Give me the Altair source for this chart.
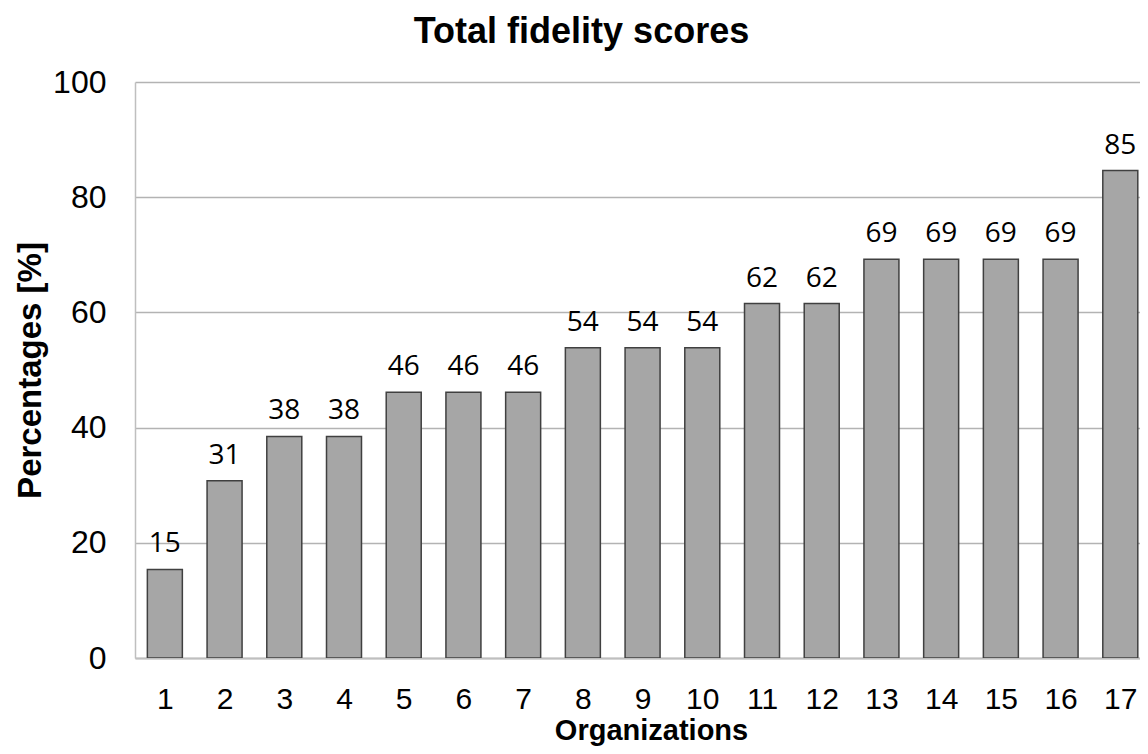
import altair as alt
import pandas as pd

organizations = list(range(1, 18))
scores = [15.38, 30.77, 38.46, 38.46, 46.15, 46.15, 46.15, 53.85, 53.85, 53.85,
          61.54, 61.54, 69.23, 69.23, 69.23, 69.23, 84.62]
x_ticks = list(range(1, 18))
y_ticks = [0, 20, 40, 60, 80, 100]

df = pd.DataFrame({"org": organizations, "score": scores})

x = alt.X(
    "org:Q",
    scale=alt.Scale(domain=[0.5, 17.33], nice=False, zero=False, padding=0),
    axis=alt.Axis(
        values=x_ticks, format="d", title="Organizations", grid=False, ticks=False,
        labelFontSize=30, labelFont="Liberation Sans", labelColor="black",
        labelPadding=50, labelBaseline="alphabetic", labelFlush=False, labelOverlap=False,
        domainColor="#bfbfbf", domainWidth=2,
        titleFontSize=29, titleFont="Liberation Sans", titleFontWeight="bold",
        titleColor="black", titleX=516, titleY=81, titleBaseline="alphabetic",
    ),
)
y = alt.Y(
    "score:Q",
    scale=alt.Scale(domain=[0, 100], nice=False, padding=0),
    axis=alt.Axis(
        values=y_ticks, title="Percentages [%]", grid=True, gridColor="#b3b3b3",
        gridWidth=1.3, ticks=False, labelFontSize=32, labelFont="Liberation Sans",
        labelColor="black", labelPadding=29, labelFlush=False, labelOverlap=False,
        domainColor="#bfbfbf", domainWidth=1.5,
        titleFontSize=33, titleFont="Liberation Sans", titleFontWeight="bold",
        titleColor="black", titleAngle=270, titleX=-95, titleY=288,
        titleBaseline="alphabetic",
    ),
)

bars = alt.Chart(df).mark_bar(
    size=35, color="#a6a6a6", stroke="#404040", strokeWidth=1.5, clip=True
).encode(x=x, y=y)

labels = alt.Chart(df).mark_text(
    font="Open Sans", fontSize=28, baseline="alphabetic", dy=-17, color="black"
).encode(x="org:Q", y="score:Q", text=alt.Text("score:Q", format=".0f"))

chart = (bars + labels).properties(
    width=1005,
    height=576,
    autosize="none",
    padding={"left": 127, "top": 74, "right": 0, "bottom": 88},
    title=alt.TitleParams(
        "Total fidelity scores", fontSize=36, font="Liberation Sans",
        fontWeight="bold", anchor="middle", frame="group", dx=-56, dy=50,
        baseline="alphabetic", offset=37, color="black",
    ),
    background="white",
).configure_view(stroke=None)

chart.save("out.html", embed_options={"renderer": "svg", "actions": False})
